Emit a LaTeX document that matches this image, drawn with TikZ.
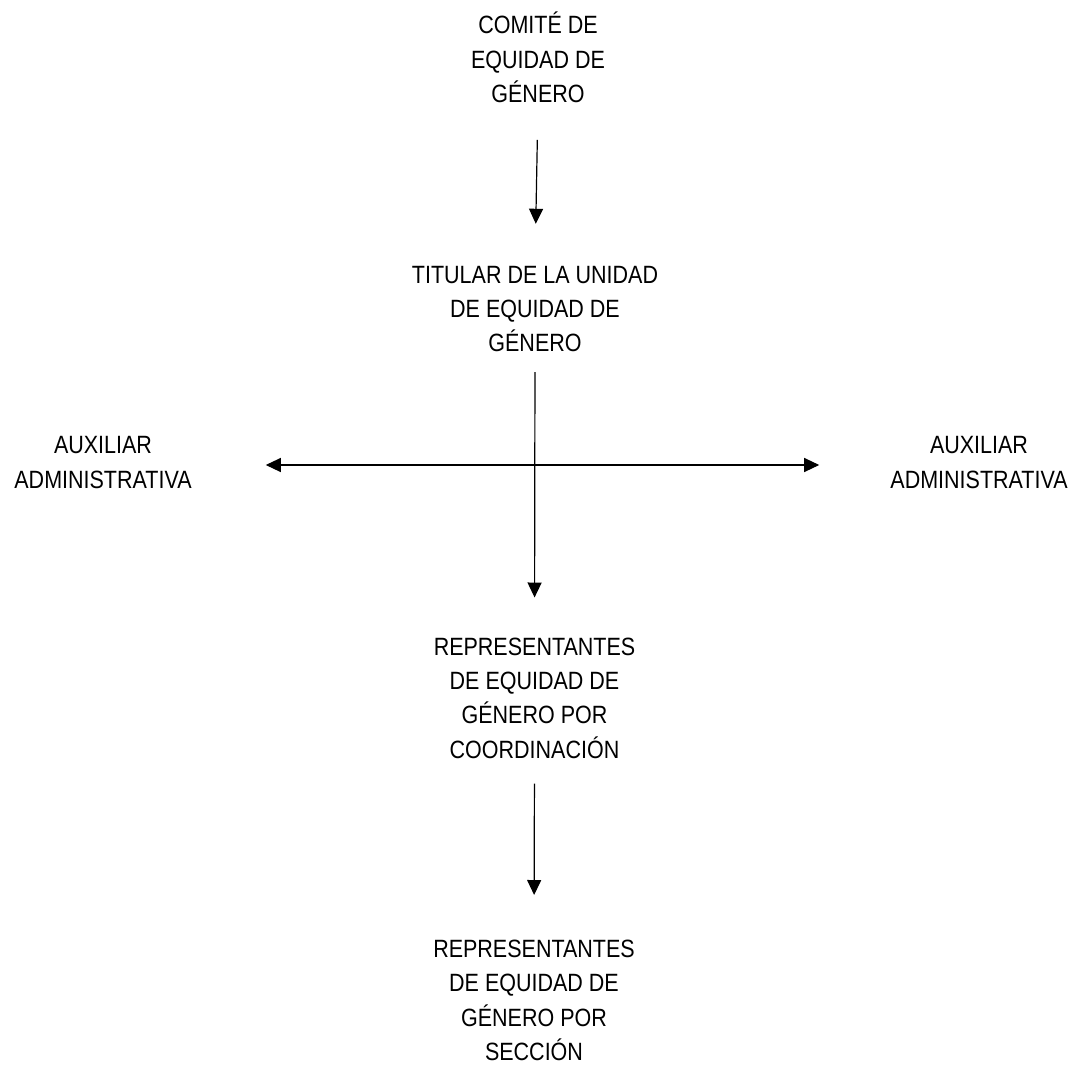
\documentclass[tikz,border=0pt]{standalone}
\usepackage{fontspec}
\setmainfont{Liberation Sans}[FakeStretch=0.86]
\usetikzlibrary{arrows.meta}
\begin{document}
\begin{tikzpicture}[x=1pt,y=-1pt,
  lbl/.style={align=center, inner sep=0pt, font=\fontsize{25}{34.3}\selectfont},
  arr/.style={line width=1.2pt, -{Triangle[length=15pt,width=14pt]}},
  biarr/.style={line width=1.2pt, {Triangle[length=15pt,width=14pt]}-{Triangle[length=15pt,width=14pt]}}]
\useasboundingbox (0,0) rectangle (1078,1065);
\node[lbl] (comite) at (538,57.5) {COMITÉ DE\\EQUIDAD DE\\GÉNERO};
\node[lbl] (titular) at (535,309) {TITULAR DE LA UNIDAD\\DE EQUIDAD DE\\GÉNERO};
\node[lbl] (auxL) at (103,462.5) {AUXILIAR\\ADMINISTRATIVA};
\node[lbl] (auxR) at (979,462.5) {AUXILIAR\\ADMINISTRATIVA};
\node[lbl] (coord) at (534.5,698) {REPRESENTANTES\\DE EQUIDAD DE\\GÉNERO POR\\COORDINACIÓN};
\node[lbl] (seccion) at (534,1000.5) {REPRESENTANTES\\DE EQUIDAD DE\\GÉNERO POR\\SECCIÓN};
\coordinate (hub) at (535,465);
\draw[arr, shorten <=37pt, shorten >=42pt] (comite.south) -- (titular.north);
\draw[arr, shorten <=20pt, shorten >=40pt] (titular.south) -- (coord.north);
\draw[biarr, shorten <=74pt, shorten >=71pt] (hub -| auxL.east) -- (hub -| auxR.west);
\draw[arr, shorten <=25pt, shorten >=45pt] (coord.south) -- (seccion.north);
\end{tikzpicture}
\end{document}
